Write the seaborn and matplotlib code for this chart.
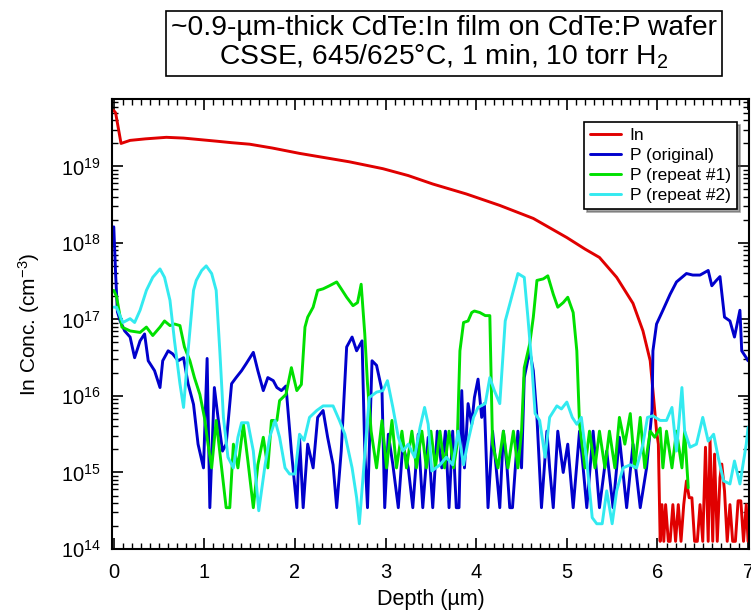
import numpy as np
import pandas as pd
import matplotlib
matplotlib.use("Agg")
import matplotlib.pyplot as plt
import matplotlib.ticker as mticker
import seaborn as sns

# values: depth (um) and log10(concentration, cm^-3)
in_depth = [0.0, 0.02, 0.05, 0.08, 0.18, 0.35, 0.58, 0.77, 0.95, 1.13, 1.3, 1.5, 1.75,
            2.05, 2.3, 2.6, 2.97, 3.25, 3.52, 3.89, 4.26, 4.63, 5.0, 5.2, 5.36, 5.55,
            5.73, 5.84, 5.92, 5.96, 5.99, 6.01,
            6.03, 6.05, 6.07, 6.09, 6.12, 6.14, 6.17, 6.2, 6.23, 6.26, 6.29, 6.32, 6.35,
            6.38, 6.41, 6.44, 6.47, 6.5, 6.53, 6.56, 6.58, 6.61, 6.63, 6.66, 6.69, 6.71,
            6.74, 6.77, 6.8, 6.83, 6.86, 6.89, 6.92, 6.95, 6.98, 7.0]
in_log = [19.73, 19.7, 19.5, 19.30, 19.34, 19.36, 19.38, 19.37, 19.35, 19.33, 19.31, 19.29, 19.24,
          19.17, 19.12, 19.06, 18.97, 18.88, 18.77, 18.64, 18.49, 18.32, 18.07, 17.92, 17.81, 17.55,
          17.21, 16.85, 16.46, 15.94, 15.54, 15.37,
          14.10, 14.58, 14.10, 14.58, 14.10, 14.10, 14.58, 14.10, 14.58, 14.10, 14.58, 14.89, 14.67,
          14.67, 14.10, 14.10, 14.58, 14.10, 15.33, 14.10, 15.44, 14.10, 15.24, 14.10, 14.93, 15.11,
          14.76, 14.10, 14.58, 14.10, 14.10, 14.63, 14.63, 14.10, 14.58, 14.10]

p_orig_depth = [0.0, 0.02, 0.04, 0.07, 0.12, 0.18, 0.23, 0.29, 0.34, 0.38, 0.45, 0.51, 0.54,
                0.6, 0.65, 0.71, 0.77, 0.82, 0.88, 0.93, 0.99, 1.03, 1.06, 1.11, 1.15, 1.2,
                1.24, 1.3, 1.35, 1.41, 1.46, 1.54, 1.59, 1.65, 1.7, 1.76, 1.8, 1.85, 1.9,
                1.96, 2.02, 2.05, 2.09, 2.14, 2.2, 2.25, 2.31, 2.36, 2.42, 2.46, 2.51, 2.57,
                2.63, 2.68, 2.74, 2.77, 2.8, 2.85, 2.9, 2.96, 2.99, 3.03, 3.08, 3.14, 3.19,
                3.25, 3.3, 3.36, 3.41, 3.47, 3.52, 3.57, 3.62, 3.66, 3.7, 3.74, 3.78, 3.81,
                3.84, 3.87, 3.91, 3.95, 3.98, 4.02, 4.06, 4.09, 4.13, 4.18, 4.22, 4.26, 4.3,
                4.34, 4.37, 4.4, 4.46, 4.5, 4.53, 4.59, 4.63, 4.67, 4.72, 4.78, 4.81, 4.85,
                4.9, 4.96, 5.01, 5.07, 5.14, 5.18, 5.22, 5.29, 5.36, 5.44, 5.51, 5.58, 5.66,
                5.73, 5.81, 5.88, 5.94, 5.95, 5.99, 6.06, 6.14, 6.21, 6.32, 6.39, 6.47, 6.56,
                6.6, 6.65, 6.69, 6.74, 6.8, 6.85, 6.91, 6.93, 6.98, 7.0]
p_orig_log = [18.21, 17.6, 17.1, 16.98, 16.85, 16.77, 16.50, 16.72, 16.81, 16.46, 16.33, 16.11, 16.46,
              16.59, 16.55, 16.46, 16.50, 16.16, 15.89, 15.37, 15.06, 16.49, 14.54, 16.11, 15.72, 15.28,
              15.37, 16.16, 16.24, 16.33, 16.42, 16.57, 16.33, 16.07, 16.24, 16.20, 16.11, 16.07, 16.13,
              15.28, 14.54, 15.46, 14.54, 15.37, 15.06, 15.72, 15.81, 15.46, 15.10, 14.54, 15.28, 16.64,
              16.77, 16.59, 16.72, 15.28, 14.54, 16.46, 16.40, 16.07, 14.54, 15.5, 15.1, 14.54, 15.37,
              15.06, 14.54, 15.5, 14.54, 15.46, 14.54, 15.54, 15.06, 15.54, 14.54, 15.54, 14.54, 14.54,
              16.07, 15.06, 15.9, 15.63, 15.98, 16.22, 15.72, 15.9, 14.54, 15.54, 15.06, 14.54, 15.54,
              15.06, 14.54, 14.54, 15.54, 15.06, 16.24, 16.59, 16.33, 15.72, 14.54, 15.54, 15.06, 14.54,
              15.54, 15.0, 15.37, 14.54, 15.54, 15.06, 14.54, 15.54, 14.54, 15.28, 14.54, 15.46, 14.54,
              15.37, 14.54, 15.06, 15.81, 16.59, 16.94, 17.12, 17.33, 17.49, 17.60, 17.58, 17.58, 17.64,
              17.44, 17.51, 17.56, 17.03, 16.98, 16.77, 17.12, 16.59, 16.50, 16.46]

p_rep1_depth = [0.0, 0.03, 0.09, 0.18, 0.29, 0.36, 0.43, 0.51, 0.56, 0.62, 0.67, 0.73, 0.78,
                0.84, 0.89, 0.95, 1.0, 1.04, 1.08, 1.13, 1.19, 1.24, 1.28, 1.32, 1.37, 1.43,
                1.48, 1.54, 1.59, 1.65, 1.7, 1.74, 1.8, 1.83, 1.9, 1.96, 2.02, 2.07, 2.11,
                2.14, 2.2, 2.25, 2.31, 2.38, 2.46, 2.51, 2.57, 2.64, 2.69, 2.73, 2.77, 2.8,
                2.84, 2.9, 2.96, 3.01, 3.07, 3.12, 3.18, 3.23, 3.29, 3.34, 3.4, 3.45, 3.5,
                3.55, 3.6, 3.65, 3.7, 3.75, 3.79, 3.82, 3.86, 3.91, 3.95, 3.98, 4.04, 4.1,
                4.15, 4.18, 4.24, 4.3, 4.35, 4.41, 4.46, 4.5, 4.53, 4.59, 4.63, 4.67, 4.74,
                4.79, 4.85, 4.9, 4.96, 5.01, 5.07, 5.11, 5.14, 5.2, 5.25, 5.31, 5.36, 5.42,
                5.47, 5.53, 5.58, 5.64, 5.7, 5.75, 5.81, 5.86, 5.92, 5.97, 6.03, 6.06, 6.1,
                6.16, 6.21, 6.27, 6.3, 6.34]
p_rep1_log = [17.38, 17.30, 16.90, 16.85, 16.83, 16.90, 16.79, 16.90, 16.98, 16.92, 16.94, 16.92, 16.64,
              16.46, 16.24, 16.02, 15.72, 15.37, 15.06, 15.68, 15.06, 14.54, 14.54, 15.37, 15.06, 15.63,
              15.15, 14.54, 15.10, 15.46, 15.06, 15.68, 15.68, 15.94, 16.02, 16.37, 16.07, 16.15, 16.90,
              17.03, 17.16, 17.38, 17.40, 17.44, 17.49, 17.40, 17.29, 17.18, 17.22, 17.46, 16.81, 16.16,
              15.54, 15.06, 15.68, 15.06, 15.68, 15.06, 15.54, 15.06, 15.54, 15.06, 15.54, 15.06, 15.54,
              15.06, 15.54, 15.06, 15.54, 15.06, 15.37, 16.59, 16.96, 16.98, 17.09, 17.11, 17.09, 17.05,
              17.05, 15.37, 15.06, 15.54, 15.06, 15.54, 15.06, 15.54, 16.37, 16.68, 17.03, 17.51, 17.53,
              17.57, 17.33, 17.16, 17.22, 17.29, 17.09, 16.59, 15.63, 15.06, 15.54, 15.06, 15.54, 15.06,
              15.54, 15.06, 15.72, 15.37, 15.77, 15.06, 15.72, 15.06, 15.54, 15.46, 15.58, 15.06, 15.54,
              15.06, 15.54, 15.06, 15.54, 14.80]

p_rep2_depth = [0.0, 0.03, 0.1, 0.18, 0.23, 0.29, 0.36, 0.43, 0.51, 0.56, 0.62, 0.67, 0.73,
                0.77, 0.82, 0.88, 0.91, 0.97, 1.02, 1.08, 1.13, 1.17, 1.21, 1.26, 1.32, 1.37,
                1.41, 1.48, 1.54, 1.6, 1.67, 1.72, 1.78, 1.83, 1.89, 1.94, 2.0, 2.05, 2.1,
                2.16, 2.24, 2.31, 2.42, 2.49, 2.55, 2.63, 2.68, 2.71, 2.75, 2.79, 2.82, 2.9,
                2.97, 3.02, 3.08, 3.14, 3.19, 3.25, 3.32, 3.38, 3.43, 3.47, 3.51, 3.6, 3.67,
                3.74, 3.8, 3.86, 3.91, 3.97, 4.02, 4.1, 4.15, 4.2, 4.26, 4.32, 4.37, 4.46,
                4.53, 4.57, 4.61, 4.65, 4.7, 4.76, 4.81, 4.89, 4.94, 5.0, 5.06, 5.11, 5.16,
                5.22, 5.28, 5.33, 5.39, 5.44, 5.5, 5.55, 5.62, 5.7, 5.77, 5.84, 5.89, 5.95,
                6.03, 6.1, 6.16, 6.21, 6.27, 6.3, 6.36, 6.43, 6.5, 6.56, 6.62, 6.67, 6.73,
                6.8, 6.85, 6.91, 6.98, 7.0]
p_rep2_log = [17.16, 17.16, 16.96, 17.01, 16.96, 17.12, 17.38, 17.55, 17.66, 17.55, 17.25, 16.72, 16.16,
              15.85, 16.59, 17.38, 17.51, 17.64, 17.70, 17.60, 17.38, 16.59, 15.72, 15.2, 15.06, 15.46,
              15.65, 15.65, 15.28, 14.50, 15.10, 15.46, 15.68, 15.46, 15.06, 14.98, 14.98, 15.5, 15.42,
              15.72, 15.81, 15.87, 15.87, 15.68, 15.5, 15.06, 14.67, 14.33, 14.93, 15.54, 15.98, 16.05,
              16.07, 16.2, 15.85, 15.46, 15.28, 15.37, 15.2, 15.59, 15.85, 15.63, 15.02, 15.10, 15.2,
              15.10, 15.54, 15.10, 15.41, 15.72, 15.85, 15.9, 16.24, 16.07, 15.9, 16.98, 17.2, 17.6,
              17.55, 17.03, 16.46, 15.77, 15.68, 15.2, 15.72, 15.87, 15.83, 15.92, 15.72, 15.63, 15.72,
              15.15, 14.41, 14.33, 14.33, 14.76, 14.33, 14.76, 15.06, 15.10, 15.06, 15.37, 15.72, 15.74,
              15.68, 15.68, 15.85, 15.28, 16.11, 15.54, 15.33, 15.37, 15.72, 15.41, 15.50, 15.20, 14.89,
              14.85, 15.15, 14.85, 15.37, 15.59]

series_names = ["In", "P (original)", "P (repeat #1)", "P (repeat #2)"]
series_colors = ["#e00000", "#0000cc", "#00e000", "#33eaf0"]

frames = []
for name, d, lg in zip(series_names,
                       [in_depth, p_orig_depth, p_rep1_depth, p_rep2_depth],
                       [in_log, p_orig_log, p_rep1_log, p_rep2_log]):
    frames.append(pd.DataFrame({"depth": d, "conc": 10 ** np.array(lg), "series": name}))
df = pd.concat(frames, ignore_index=True)

sns.set_style("ticks")
plt.rcParams['font.family'] = ['Liberation Sans', 'DejaVu Sans']
plt.rcParams['mathtext.fontset'] = 'custom'
plt.rcParams['mathtext.rm'] = 'Liberation Sans'
plt.rcParams['mathtext.it'] = 'Liberation Sans:italic'
plt.rcParams['mathtext.bf'] = 'Liberation Sans:bold'
plt.rcParams['text.color'] = 'black'
plt.rcParams['axes.labelcolor'] = 'black'
plt.rcParams['xtick.color'] = 'black'
plt.rcParams['ytick.color'] = 'black'

fig = plt.figure(figsize=(7.51, 6.13), dpi=100)
ax = fig.add_axes([0.1491, 0.1044, 0.8482, 0.7341])

for name, color in zip(series_names, series_colors):
    sns.lineplot(data=df[df["series"] == name], x="depth", y="conc", ax=ax,
                 color=color, label=name, linewidth=2.1, estimator=None, sort=False)

ax.set_yscale("log")
ax.set_xlim(-0.02, 7.01)
ax.set_ylim(1e14, 7.6e19)

ax.xaxis.set_major_locator(mticker.MultipleLocator(1))
ax.xaxis.set_minor_locator(mticker.MultipleLocator(0.1))
ax.yaxis.set_major_locator(mticker.LogLocator(base=10, numticks=10))
ax.yaxis.set_minor_locator(mticker.LogLocator(base=10, subs=np.arange(2, 10), numticks=20))
ax.yaxis.set_minor_formatter(mticker.NullFormatter())

ax.tick_params(which="both", direction="in", top=True, right=True, color="black")
ax.tick_params(which="major", length=8, width=1.2, labelsize=14.5)
ax.tick_params(axis="x", which="major", pad=10)
ax.tick_params(axis="y", which="major", pad=8)
ax.tick_params(which="minor", length=4.5, width=1.0)
for sp in ax.spines.values():
    sp.set_linewidth(1.5)
    sp.set_color("black")

ax.set_xlabel("Depth (µm)", fontsize=15.5, labelpad=5)
ax.set_ylabel("In Conc. (cm$^{-3}$)", fontsize=15, labelpad=14)

leg = ax.legend(loc="upper right", bbox_to_anchor=(0.981, 0.949), borderaxespad=0,
                fontsize=12.5, handlelength=1.8, labelspacing=0.28, handletextpad=0.5,
                borderpad=0.35, fancybox=False, shadow=True, framealpha=1)
leg.get_frame().set_edgecolor("black")
leg.get_frame().set_linewidth(1.2)

fig.text(444 / 751, 1 - 43 / 613,
         "~0.9-µm-thick CdTe:In film on CdTe:P wafer\nCSSE, 645/625°C, 1 min, 10 torr H$_2$",
         ha="center", va="center", fontsize=20.3, linespacing=1.05,
         bbox=dict(boxstyle="square,pad=0.17", fc="white", ec="black", lw=1.2))

fig.savefig("out.png", dpi=100)
